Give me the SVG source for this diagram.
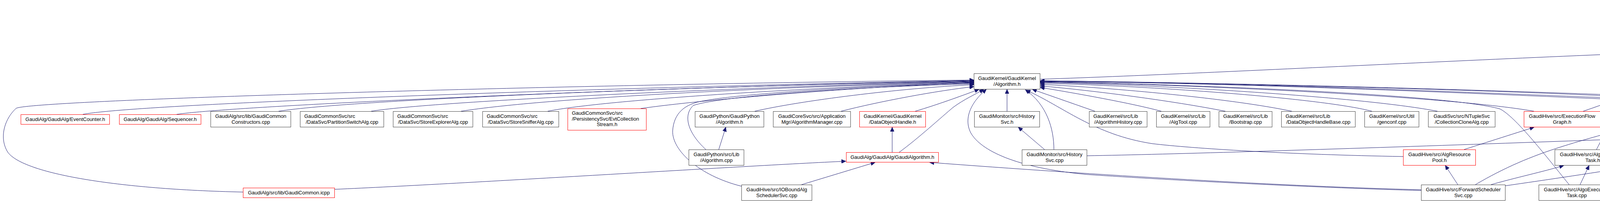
<svg xmlns="http://www.w3.org/2000/svg" width="5859" height="520" viewBox="0 0 5859 520">
<style>
rect{fill:#fff;stroke:#404040;stroke-width:1}
.r rect{stroke:#ff0000}
.g rect{fill:#bfbfbf}
text{font-family:"Liberation Sans",Arial,sans-serif;font-size:13px;fill:#000;text-anchor:middle}
text.l{text-anchor:start}
#edges path{fill:none;stroke:#191970;stroke-width:1;marker-end:url(#a)}
</style>
<defs>
<marker id="a" markerUnits="userSpaceOnUse" markerWidth="12" markerHeight="10" refX="11" refY="5" orient="auto"><path d="M0,0 L11,5 L0,10 z" fill="#191970" stroke="#191970" stroke-width="1"/></marker>
</defs>
<rect x="0" y="0" width="5859" height="520" style="fill:#fff;stroke:none"/>
<g id="edges">
<path d="M4903,102 C5040,82 5180,61 5312,42"/>
<path d="M5397,97 L5397,48"/>
<path d="M5536,97 L5440,48"/>
<path d="M5715,191 C5650,175 5560,155 5484,138"/>
<path d="M4350,195 C4460,170 4600,145 4733,131"/>
<path d="M4683,188 L4782,138"/>
<path d="M4797,285 C4792,240 4798,180 4808,138"/>
<path d="M4987,383 C4940,322 4885,282 4862,258 C4838,230 4825,185 4822,138"/>
<path d="M4913,188 L4852,139"/>
<path d="M5065,188 L4893,138"/>
<path d="M5240,188 C5100,160 5000,142 4904,131"/>
<path d="M5472,189 C5300,165 5050,135 4904,125"/>
<path d="M5650,383 C5685,300 5690,215 5650,187 C5500,158 5100,130 4904,121"/>
<path d="M2662,203 C3200,185 4000,138 4733,117"/>
<path d="M4087,383 C4130,300 4160,220 4177,190 C4240,155 4450,130 4733,122"/>
<path d="M4323,383 C4380,345 4420,320 4450,290 C4510,215 4600,155 4733,132"/>
<path d="M4352,285 C4420,270 4500,250 4573,229"/>
<path d="M4770,285 L4683,229"/>
<path d="M4903,383 C4800,362 4720,348 4698,328 C4670,300 4660,270 4652,229"/>
<path d="M2578,285 L2578,229"/>
<path d="M2698,383 C2698,330 2680,268 2625,230"/>
<path d="M2803,285 L2643,229"/>
<path d="M2973,285 C2900,265 2750,238 2663,224"/>
<path d="M3137,285 C3000,258 2800,232 2663,220"/>
<path d="M3307,285 C3150,252 2850,225 2663,216"/>
<path d="M3512,285 C3400,255 3000,222 2663,213"/>
<path d="M3680,285 C3500,250 3000,218 2663,211"/>
<path d="M3927,285 C3700,245 3000,215 2663,210"/>
<path d="M4017,473 C3950,390 3880,300 3840,279 C3700,240 3000,215 2663,209"/>
<path d="M4352,473 C4395,425 4410,370 4402,300 C4398,280 4395,268 4375,262 C4100,236 3200,214 2663,208"/>
<path d="M4903,383 C4780,355 4680,340 4640,318 C4600,290 4560,262 4410,255 C4000,235 3200,212 2663,207"/>
<path d="M4723,383 C4650,350 4570,300 4520,285 C4470,268 4400,262 4300,258 C3800,238 3200,212 2663,207"/>
<path d="M4542,383 C4520,340 4500,300 4470,280 C4440,268 4400,265 4300,262 C3800,240 3200,213 2663,208"/>
<path d="M3592,401 C3300,396 3050,380 2950,368 C2800,345 2720,272 2627,231"/>
<path d="M3638,488 C3400,482 3000,462 2783,447 C2600,430 2510,385 2485,340 C2465,300 2490,258 2525,229"/>
<path d="M2302,390 C2350,355 2410,300 2440,275 C2470,253 2495,243 2518,229"/>
<path d="M2343,285 C2400,268 2455,248 2506,229"/>
<path d="M2153,285 C2250,260 2400,232 2493,222"/>
<path d="M1932,285 C2050,258 2300,226 2493,217"/>
<path d="M1807,383 C1760,340 1748,295 1775,270 C1850,245 2200,222 2493,215"/>
<path d="M1898,477 C1790,450 1720,385 1722,335 C1725,292 1750,266 1803,258 C1900,240 2200,220 2493,213"/>
<path d="M1640,278 C1800,255 2200,222 2493,212"/>
<path d="M1402,285 C1550,255 2100,222 2493,211"/>
<path d="M1180,285 C1400,250 2000,222 2493,210"/>
<path d="M950,285 C1100,260 1900,222 2493,209"/>
<path d="M713,285 C900,255 1800,220 2493,208"/>
<path d="M452,293 C600,270 1700,222 2493,207"/>
<path d="M212,293 C350,265 1600,222 2493,206"/>
<path d="M622,492 C300,485 60,445 20,390 C-5,350 15,300 42,277 C100,255 1500,215 2493,205"/>
<path d="M1840,383 L1858,326"/>
<path d="M2674,383 L2607,326"/>
<path d="M2782,399 C3200,392 4500,345 4945,325"/>
<path d="M2284,390 L2284,326"/>
<path d="M856,485 C1200,470 1900,425 2165,413"/>
<path d="M2052,473 L2240,416"/>
<path d="M3638,486 C3300,478 2800,448 2380,416"/>
<path d="M3748,383 L3927,326"/>
<path d="M3732,473 L3700,424"/>
<path d="M3777,473 C3850,430 3920,400 4000,375 C4080,350 4130,338 4173,326"/>
<path d="M3817,473 C3880,455 3950,440 4003,424"/>
<path d="M3853,476 C3950,462 4100,440 4199,423"/>
<path d="M4053,285 L4237,221"/>
<path d="M4279,285 L4279,221"/>
<path d="M4118,383 L4230,326"/>
<path d="M4286,383 L4282,326"/>
<path d="M4045,473 L4068,424"/>
<path d="M4320,473 L4298,424"/>
<path d="M5022,285 L4965,229"/>
<path d="M5126,289 C5250,268 5380,245 5472,229"/>
<path d="M4640,383 C4750,360 4870,338 4945,325"/>
<path d="M4825,383 L4978,326"/>
<path d="M5010,383 L5030,326"/>
<path d="M5055,383 C5200,335 5380,270 5498,229"/>
<path d="M5257,383 L5100,326"/>
<path d="M5333,383 C5400,330 5470,280 5523,229"/>
<path d="M5135,473 C5130,420 5110,370 5070,326"/>
<path d="M5252,484 C5350,465 5420,430 5460,390 C5500,340 5530,280 5547,229"/>
<path d="M5058,473 L4857,424"/>
<path d="M5557,388 C5400,362 5250,340 5127,321"/>
</g>
<g id="n1" class="g"><rect x="5313.5" y="7.5" width="169" height="40"/><text x="5398" y="23.5">GaudiKernel/GaudiKernel</text><text x="5398" y="38.5">/EventIDBase.h</text></g>
<g id="n2"><rect x="4734.5" y="97.5" width="169" height="40"/><text x="4819" y="113.5">GaudiKernel/GaudiKernel</text><text x="4819" y="128.5">/EventContext.h</text></g>
<g id="n3"><rect x="5313.5" y="97.5" width="169" height="40"/><text x="5398" y="113.5">GaudiKernel/GaudiKernel</text><text x="5398" y="128.5">/EventIDRange.h</text></g>
<g id="n4"><rect x="5505.5" y="97.5" width="137" height="40"/><text x="5574" y="113.5">GaudiKernel/src/Lib</text><text x="5574" y="128.5">/EventIDBase.cpp</text></g>
<g id="n5"><rect x="2493.5" y="188.5" width="169" height="40"/><text x="2578" y="204.5">GaudiKernel/GaudiKernel</text><text x="2578" y="219.5">/Algorithm.h</text></g>
<g id="n6"><rect x="4190.5" y="195.5" width="177" height="25"/><text x="4279" y="212">GaudiHive/src/EventSlot.h</text></g>
<g id="n7" class="r"><rect x="4562.5" y="188.5" width="169" height="40"/><text x="4647" y="204.5">GaudiKernel/GaudiKernel</text><text x="4647" y="219.5">/IScheduler.h</text></g>
<g id="n8"><rect x="4856.5" y="188.5" width="168" height="40"/><text x="4940.5" y="204.5">GaudiKernel/GaudiKernel</text><text x="4940.5" y="219.5">/EventContextHash.h</text></g>
<g id="n9"><rect x="5048.5" y="188.5" width="168" height="40"/><text class="l" x="5059" y="204.5">GaudiKernel/src/Lib</text><text x="5132.5" y="219.5">/ThreadLocalContext.cpp</text></g>
<g id="n10"><rect x="5240.5" y="188.5" width="208" height="40"/><text class="l" x="5252" y="204.5">GaudiCoreSvc/src/AlgExec</text><text x="5344.5" y="219.5">StateSvc/AlgExecStateSvc.cpp</text></g>
<g id="n11" class="r"><rect x="5472.5" y="188.5" width="168" height="40"/><text x="5556.5" y="204.5">GaudiKernel/GaudiKernel</text><text x="5556.5" y="219.5">/Incident.h</text></g>
<g id="n12"><rect x="5715.5" y="188.5" width="138" height="40"/><text x="5784.5" y="204.5">GaudiKernel/src/Lib</text><text x="5784.5" y="219.5">/EventIDRange.cpp</text></g>
<g id="n13" class="r"><rect x="53.5" y="293.5" width="227" height="25"/><text x="167" y="310">GaudiAlg/GaudiAlg/EventCounter.h</text></g>
<g id="n14" class="r"><rect x="305.5" y="293.5" width="209" height="25"/><text x="410" y="310">GaudiAlg/GaudiAlg/Sequencer.h</text></g>
<g id="n15"><rect x="539.5" y="285.5" width="205" height="40"/><text x="642" y="301.5">GaudiAlg/src/lib/GaudiCommon</text><text x="642" y="316.5">Constructors.cpp</text></g>
<g id="n16"><rect x="768.5" y="285.5" width="214" height="40"/><text class="l" x="779" y="301.5">GaudiCommonSvc/src</text><text x="875.5" y="316.5">/DataSvc/PartitionSwitchAlg.cpp</text></g>
<g id="n17"><rect x="1006.5" y="285.5" width="204" height="40"/><text class="l" x="1017" y="301.5">GaudiCommonSvc/src</text><text x="1108.5" y="316.5">/DataSvc/StoreExplorerAlg.cpp</text></g>
<g id="n18"><rect x="1235.5" y="285.5" width="195" height="40"/><text class="l" x="1246" y="301.5">GaudiCommonSvc/src</text><text x="1333" y="316.5">/DataSvc/StoreSnifferAlg.cpp</text></g>
<g id="n19" class="r"><rect x="1453.5" y="278.5" width="201" height="55"/><text class="l" x="1464" y="294">GaudiCommonSvc/src</text><text class="l" x="1464" y="308.5">/PersistencySvc/EvtCollection</text><text x="1554" y="323">Stream.h</text></g>
<g id="n20"><rect x="1779.5" y="285.5" width="176" height="40"/><text x="1867.5" y="301.5">GaudiPython/GaudiPython</text><text x="1867.5" y="316.5">/Algorithm.h</text></g>
<g id="n21"><rect x="1979.5" y="285.5" width="198" height="40"/><text x="2078.5" y="301.5">GaudiCoreSvc/src/Application</text><text x="2078.5" y="316.5">Mgr/AlgorithmManager.cpp</text></g>
<g id="n22" class="r"><rect x="2200.5" y="285.5" width="169" height="40"/><text x="2285" y="301.5">GaudiKernel/GaudiKernel</text><text x="2285" y="316.5">/DataObjectHandle.h</text></g>
<g id="n23"><rect x="2494.5" y="285.5" width="167" height="40"/><text x="2578" y="301.5">GaudiMonitor/src/History</text><text x="2578" y="316.5">Svc.h</text></g>
<g id="n24"><rect x="2788.5" y="285.5" width="148" height="40"/><text class="l" x="2799" y="301.5">GaudiKernel/src/Lib</text><text x="2862.5" y="316.5">/AlgorithmHistory.cpp</text></g>
<g id="n25"><rect x="2960.5" y="285.5" width="137" height="40"/><text x="3029" y="301.5">GaudiKernel/src/Lib</text><text x="3029" y="316.5">/AlgTool.cpp</text></g>
<g id="n26"><rect x="3120.5" y="285.5" width="136" height="40"/><text x="3188.5" y="301.5">GaudiKernel/src/Lib</text><text x="3188.5" y="316.5">/Bootstrap.cpp</text></g>
<g id="n27"><rect x="3280.5" y="285.5" width="189" height="40"/><text class="l" x="3291" y="301.5">GaudiKernel/src/Lib</text><text x="3375" y="316.5">/DataObjectHandleBase.cpp</text></g>
<g id="n28"><rect x="3493.5" y="285.5" width="139" height="40"/><text x="3563" y="301.5">GaudiKernel/src/Util</text><text x="3563" y="316.5">/genconf.cpp</text></g>
<g id="n29"><rect x="3656.5" y="285.5" width="171" height="40"/><text x="3742" y="301.5">GaudiSvc/src/NTupleSvc</text><text x="3742" y="316.5">/CollectionCloneAlg.cpp</text></g>
<g id="n30" class="r"><rect x="3901.5" y="285.5" width="195" height="40"/><text x="3999" y="301.5">GaudiHive/src/ExecutionFlow</text><text x="3999" y="316.5">Graph.h</text></g>
<g id="n31"><rect x="4171.5" y="285.5" width="215" height="40"/><text x="4279" y="301.5">GaudiHive/src/ForwardScheduler</text><text x="4279" y="316.5">Svc.h</text></g>
<g id="n32"><rect x="4715.5" y="285.5" width="168" height="40"/><text x="4799.5" y="301.5">GaudiKernel/GaudiKernel</text><text x="4799.5" y="316.5">/ISchedulerSvc.h</text></g>
<g id="n33" class="r"><rect x="4957.5" y="285.5" width="169" height="40"/><text x="5042" y="301.5">GaudiKernel/GaudiKernel</text><text x="5042" y="316.5">/IIncidentSvc.h</text></g>
<g id="n34"><rect x="1763.5" y="383.5" width="141" height="40"/><text x="1834" y="399.5">GaudiPython/src/Lib</text><text x="1834" y="414.5">/Algorithm.cpp</text></g>
<g id="n35" class="r"><rect x="2166.5" y="390.5" width="236" height="25"/><text x="2284.5" y="407">GaudiAlg/GaudiAlg/GaudiAlgorithm.h</text></g>
<g id="n36"><rect x="2616.5" y="383.5" width="166" height="40"/><text x="2699.5" y="399.5">GaudiMonitor/src/History</text><text x="2699.5" y="414.5">Svc.cpp</text></g>
<g id="n37" class="r"><rect x="3592.5" y="383.5" width="185" height="40"/><text x="3685" y="399.5">GaudiHive/src/AlgResource</text><text x="3685" y="414.5">Pool.h</text></g>
<g id="n38"><rect x="3980.5" y="383.5" width="194" height="40"/><text x="4077.5" y="399.5">GaudiHive/src/AlgoExecution</text><text x="4077.5" y="414.5">Task.h</text></g>
<g id="n39"><rect x="4198.5" y="383.5" width="180" height="40"/><text x="4288.5" y="399.5">GaudiHive/src/IOBoundAlg</text><text x="4288.5" y="414.5">Task.h</text></g>
<g id="n40" class="r"><rect x="4461.5" y="383.5" width="179" height="40"/><text x="4551" y="399.5">GaudiCoreSvc/src/Incident</text><text x="4551" y="414.5">Svc/IncidentProcAlg.h</text></g>
<g id="n41" class="r"><rect x="4664.5" y="383.5" width="215" height="40"/><text class="l" x="4676" y="399.5">GaudiCommonSvc/src</text><text x="4772" y="414.5">/PersistencySvc/OutputStream.h</text></g>
<g id="n42"><rect x="4903.5" y="383.5" width="196" height="40"/><text x="5001.5" y="399.5">GaudiHive/src/HiveSlimEvent</text><text x="5001.5" y="414.5">LoopMgr.cpp</text></g>
<g id="n43"><rect x="5212.5" y="383.5" width="198" height="40"/><text x="5311.5" y="399.5">GaudiCoreSvc/src/Application</text><text x="5311.5" y="414.5">Mgr/EventLoopMgr.cpp</text></g>
<g id="n44" class="r"><rect x="5557.5" y="383.5" width="169" height="40"/><text x="5642" y="399.5">GaudiKernel/GaudiKernel</text><text x="5642" y="414.5">/MinimalEventLoopMgr.h</text></g>
<g id="n45" class="r"><rect x="622.5" y="481.5" width="234" height="25"/><text x="739.5" y="498">GaudiAlg/src/lib/GaudiCommon.icpp</text></g>
<g id="n46"><rect x="1898.5" y="473.5" width="180" height="40"/><text x="1988.5" y="489.5">GaudiHive/src/IOBoundAlg</text><text x="1988.5" y="504.5">SchedulerSvc.cpp</text></g>
<g id="n47"><rect x="3638.5" y="473.5" width="215" height="40"/><text x="3746" y="489.5">GaudiHive/src/ForwardScheduler</text><text x="3746" y="504.5">Svc.cpp</text></g>
<g id="n48"><rect x="3939.5" y="473.5" width="194" height="40"/><text x="4036.5" y="489.5">GaudiHive/src/AlgoExecution</text><text x="4036.5" y="504.5">Task.cpp</text></g>
<g id="n49"><rect x="4240.5" y="473.5" width="179" height="40"/><text x="4330" y="489.5">GaudiHive/src/IOBoundAlg</text><text x="4330" y="504.5">Task.cpp</text></g>
<g id="n50"><rect x="5023.5" y="473.5" width="229" height="40"/><text class="l" x="5034" y="489.5">GaudiCommonSvc/src</text><text x="5138" y="504.5">/PersistencySvc/OutputStream.cpp</text></g>
</svg>
